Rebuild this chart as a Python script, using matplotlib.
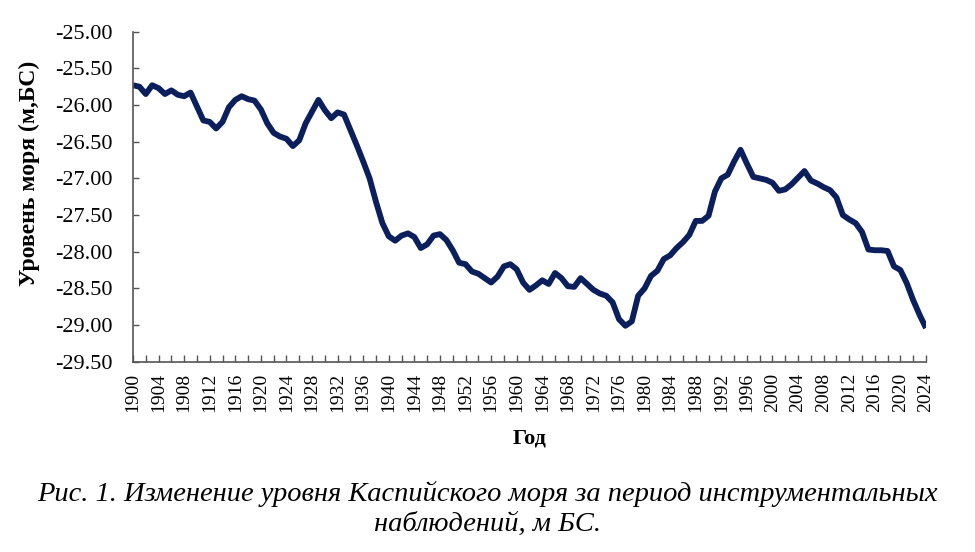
import numpy as np
import matplotlib
matplotlib.use("Agg")
import matplotlib.pyplot as plt
from matplotlib.ticker import MultipleLocator, FormatStrFormatter

# уровень Каспия, м БС
years = list(range(1900, 2025))
level = [
    -25.73, -25.75, -25.85, -25.73, -25.77, -25.85, -25.80, -25.86, -25.88, -25.83,  # 1900
    -26.02, -26.21, -26.23, -26.32, -26.23, -26.03, -25.93, -25.88, -25.92, -25.94,  # 1910
    -26.06, -26.25, -26.38, -26.43, -26.46, -26.56, -26.48, -26.25, -26.09, -25.93,  # 1920
    -26.07, -26.18, -26.10, -26.13, -26.34, -26.55, -26.77, -27.00, -27.32, -27.61,  # 1930
    -27.79, -27.85, -27.78, -27.75, -27.80, -27.95, -27.90, -27.78, -27.76, -27.84,  # 1940
    -27.98, -28.15, -28.17, -28.27, -28.30, -28.36, -28.42, -28.34, -28.20, -28.17,  # 1950
    -28.24, -28.42, -28.52, -28.46, -28.39, -28.44, -28.29, -28.36, -28.47, -28.48,  # 1960
    -28.36, -28.44, -28.52, -28.57, -28.60, -28.69, -28.92, -29.01, -28.95, -28.60,  # 1970
    -28.50, -28.33, -28.26, -28.10, -28.05, -27.95, -27.87, -27.77, -27.58, -27.58,  # 1980
    -27.51, -27.18, -27.00, -26.95, -26.77, -26.61, -26.80, -26.98, -27.00, -27.02,  # 1990
    -27.06, -27.17, -27.15, -27.08, -26.99, -26.90, -27.03, -27.07, -27.12, -27.16,  # 2000
    -27.26, -27.50, -27.56, -27.61, -27.73, -27.97, -27.98, -27.98, -27.99, -28.20,  # 2010
    -28.25, -28.43, -28.66, -28.86, -29.04,                                          # 2020
]
label_years = list(range(1900, 2025, 4))

plt.rcParams['font.family'] = ['Liberation Serif', 'DejaVu Serif']

fig = plt.figure(figsize=(9.75, 5.52), dpi=100)
ax = fig.add_axes([0.1364, 0.3447, 0.8133, 0.5979])

ax.plot(years, level, color='#0b1f5c', lw=4.2, solid_joinstyle='round', solid_capstyle='butt')

ax.set_xlim(1900, 2024)
ax.set_ylim(-29.5, -25.0)
ax.yaxis.set_major_locator(MultipleLocator(0.5))
ax.yaxis.set_major_formatter(FormatStrFormatter('%.2f'))
ax.set_xticks(label_years)
ax.set_xticklabels([str(y) for y in label_years], rotation=90)
ax.xaxis.set_minor_locator(MultipleLocator(2))

for s in ['top', 'right']:
    ax.spines[s].set_visible(False)
for s in ['left', 'bottom']:
    ax.spines[s].set_color('#555555')
    ax.spines[s].set_linewidth(1.2)

ax.tick_params(axis='y', direction='in', length=4, width=1, color='#555555', labelsize=16, pad=15)
ax.tick_params(axis='x', which='both', direction='in', length=5, width=1, color='#555555', labelsize=14, pad=8)

ax.set_ylabel('Уровень моря (м,БС)', fontsize=17, fontweight='bold')
ax.yaxis.set_label_coords(-0.117, 0.572)
ax.set_xlabel('Год', fontsize=16, fontweight='bold', labelpad=12)

fig.text(0.5, 0.105, 'Рис. 1. Изменение уровня Каспийского моря за период инструментальных',
         ha='center', va='center', fontsize=20.5, style='italic')
fig.text(0.5, 0.05, 'наблюдений, м БС.', ha='center', va='center', fontsize=20.5, style='italic')

fig.savefig('out.png', dpi=100)
